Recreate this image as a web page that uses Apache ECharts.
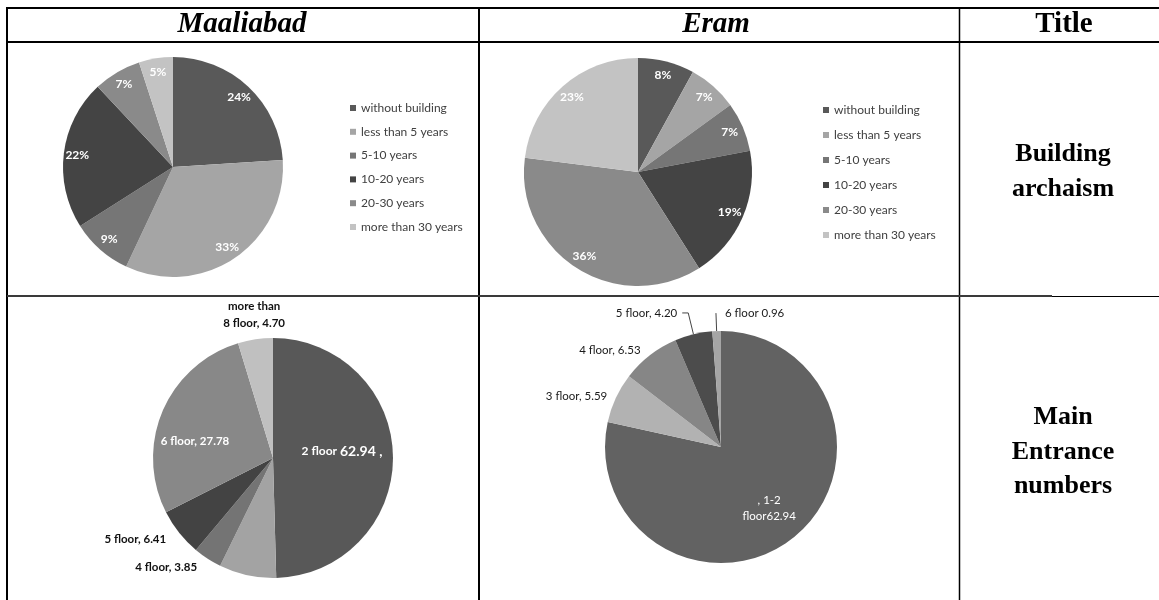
<!DOCTYPE html>
<html lang="en">
<head>
    <meta charset="utf-8">
    <title>Maaliabad / Eram</title>
    <script src="https://cdn.jsdelivr.net/npm/echarts@6/dist/echarts.min.js"></script>
    <style>
        html, body { margin: 0; padding: 0; background: #fff; }
        #main { width: 1159px; height: 600px; }
    </style>
</head>
<body>
<div id="main"></div>
<script type="text/javascript">

    // building archaism (percent)
    const ageNames = ['without building', 'less than 5 years', '5-10 years', '10-20 years', '20-30 years', 'more than 30 years'];
    const ageMaaliabad = [24, 33, 9, 22, 7, 5];
    const ageEram = [8, 7, 7, 19, 36, 23];
    const ageColors = ['#595959', '#a5a5a5', '#767676', '#444444', '#8a8a8a', '#c3c3c3'];

    // main entrance numbers - Maaliabad (slice sizes, labels as printed)
    const floorNamesM = ['2 floor', '3 floor', '4 floor', '5 floor', '6 floor', 'more than 8 floor'];
    const floorValuesM = [49.57, 7.69, 3.85, 6.41, 27.78, 4.70];
    const floorLabelsM = ['{a|2 floor }{b|62.94 ,}', '', '4 floor, 3.85', '5 floor, 6.41', '6 floor, 27.78', 'more than\n8 floor, 4.70'];
    const floorColorsM = ['#585858', '#a3a3a3', '#747474', '#434343', '#888888', '#c0c0c0'];

    // main entrance numbers - Eram
    const floorNamesE = ['1-2 floor', '3 floor', '4 floor', '5 floor', '6 floor'];
    const floorValuesE = [62.94, 5.59, 6.53, 4.20, 0.96];
    const floorLabelsE = [', 1-2\nfloor62.94', '3 floor, 5.59', '4 floor, 6.53', '5 floor, 4.20', '6 floor 0.96'];
    const floorColorsE = ['#626262', '#b2b2b2', '#868686', '#4c4c4c', '#a5a5a5'];

    const headers = ['Maaliabad', 'Eram', 'Title'];
    const rowTitles = ['Building\narchaism', 'Main\nEntrance\nnumbers'];

    const serif = '"Liberation Serif", "DejaVu Serif", serif';
    const sans = 'Lato, "Open Sans", sans-serif';

    function init() {
        let myChart = echarts.init(document.getElementById('main'));

        const pieBase = {
            type: 'pie',
            startAngle: 90,
            clockwise: true,
            avoidLabelOverlap: false,
            silent: true,
            emphasis: { disabled: true }
        };

        function ageSlices(values) {
            return ageNames.map((n, i) => ({ name: n, value: values[i], itemStyle: { color: ageColors[i] } }));
        }
        // transparent ring, only carries the % labels further out
        function ageRing(center, r, values) {
            return Object.assign({}, pieBase, {
                center: center,
                radius: [r * 0.7, r],
                data: ageNames.map((n, i) => ({ name: n, value: values[i] })),
                itemStyle: { color: 'rgba(0,0,0,0)' },
                label: {
                    show: true, position: 'inside', formatter: '{c}%',
                    color: '#fff', fontFamily: sans, fontWeight: 'bold', fontSize: 12
                },
                labelLine: { show: false }
            });
        }

        const dataM = floorNamesM.map((n, i) => ({ name: n, value: floorValuesM[i], itemStyle: { color: floorColorsM[i] } }));
        dataM[0].label = { position: 'inside', color: '#fff' };
        dataM[1].label = { show: false };
        dataM[4].label = { position: 'inside', color: '#fff' };
        dataM[5].labelLine = { length: 22 };

        const dataE = floorNamesE.map((n, i) => ({ name: n, value: floorValuesE[i], itemStyle: { color: floorColorsE[i] } }));
        dataE[0].label = { position: 'inside', color: '#fff', lineHeight: 16 };
        dataE[1].labelLine = { length: 4 };
        dataE[2].labelLine = { length: 7 };
        dataE[3].labelLine = { show: true, length: 22, length2: 6 };
        dataE[4].labelLine = { show: true, length: 18, length2: 0 };

        const legendBase = {
            data: ageNames,
            orient: 'vertical',
            padding: 0,
            icon: 'rect',
            itemWidth: 6,
            itemHeight: 6,
            selectedMode: false,
            textStyle: { color: '#404040', fontFamily: sans, fontSize: 12, lineHeight: 14 }
        };

        const graphic = [];
        const line = (x1, y1, x2, y2, w, c) => graphic.push({
            type: 'line', shape: { x1: x1, y1: y1, x2: x2, y2: y2 },
            style: { stroke: c || '#000', lineWidth: w }
        });
        line(6, 8, 1159, 8, 2);
        line(6, 42, 1159, 42, 2);
        line(7, 7, 7, 600, 2);
        line(479, 7, 479, 600, 2);
        line(959.5, 7, 959.5, 600, 1.5);
        line(7, 296, 1052, 296, 2, '#3a3a3a');
        line(1052, 296.5, 1159, 296.5, 1);

        const headerX = [242, 716, 1064];
        headers.forEach((t, i) => graphic.push({
            type: 'text', x: headerX[i], y: 25,
            style: {
                text: t, fill: '#000', align: 'center', verticalAlign: 'middle',
                fontFamily: serif, fontWeight: 'bold', fontStyle: i < 2 ? 'italic' : 'normal', fontSize: 29
            }
        }));
        const rowY = [172, 452];
        rowTitles.forEach((t, i) => graphic.push({
            type: 'text', x: 1063, y: rowY[i],
            style: {
                text: t, fill: '#000', align: 'center', verticalAlign: 'middle',
                fontFamily: serif, fontWeight: 'bold', fontSize: 26, lineHeight: 34.5
            }
        }));

        const option = {
            animation: false,
            backgroundColor: '#fff',
            legend: [
                Object.assign({}, legendBase, { left: 350, top: 101, itemGap: 9.8 }),
                Object.assign({}, legendBase, { left: 823, top: 103, itemGap: 11 })
            ],
            graphic: graphic,
            series: [
                Object.assign({}, pieBase, {
                    name: 'Maaliabad archaism', center: [173, 167], radius: 110,
                    data: ageSlices(ageMaaliabad), label: { show: false }
                }),
                Object.assign({}, pieBase, {
                    name: 'Eram archaism', center: [638, 172], radius: 114,
                    data: ageSlices(ageEram), label: { show: false }
                }),
                Object.assign({}, pieBase, {
                    name: 'Maaliabad entrance', center: [273, 458], radius: 120,
                    data: dataM,
                    label: {
                        show: true, position: 'outside',
                        formatter: p => floorLabelsM[p.dataIndex],
                        color: '#111', fontFamily: sans, fontWeight: 'bold', fontSize: 11.5, lineHeight: 17,
                        rich: {
                            a: { color: '#fff', fontFamily: sans, fontWeight: 'bold', fontSize: 12 },
                            b: { color: '#fff', fontFamily: sans, fontSize: 14 }
                        }
                    },
                    labelLine: { show: false, length: 10, length2: 0 },
                    labelLayout: p => {
                        if (p.dataIndex === 5) return { align: 'center', dx: 7, dy: -3 };
                        if (p.dataIndex === 4) return { dx: -20, dy: 8 };
                        if (p.dataIndex === 0) return { dx: 6, dy: -6 };
                        return {};
                    }
                }),
                Object.assign({}, pieBase, {
                    name: 'Eram entrance', center: [721, 447], radius: 116,
                    data: dataE,
                    label: {
                        show: true, position: 'outside',
                        formatter: p => floorLabelsE[p.dataIndex],
                        color: '#1a1a1a', fontFamily: sans, fontSize: 11.5
                    },
                    labelLine: { show: false, length: 6, length2: 0, lineStyle: { color: '#444', width: 1 } },
                    labelLayout: p => {
                        if (p.dataIndex === 4) return { align: 'left', dx: 14 };
                        if (p.dataIndex === 0) return { dx: 10, dy: 14 };
                        return {};
                    }
                }),
                ageRing([173, 167], 110, ageMaaliabad),
                ageRing([638, 172], 114, ageEram)
            ]
        };
        myChart.setOption(option);
    }

    init();
</script>
</body>
</html>
